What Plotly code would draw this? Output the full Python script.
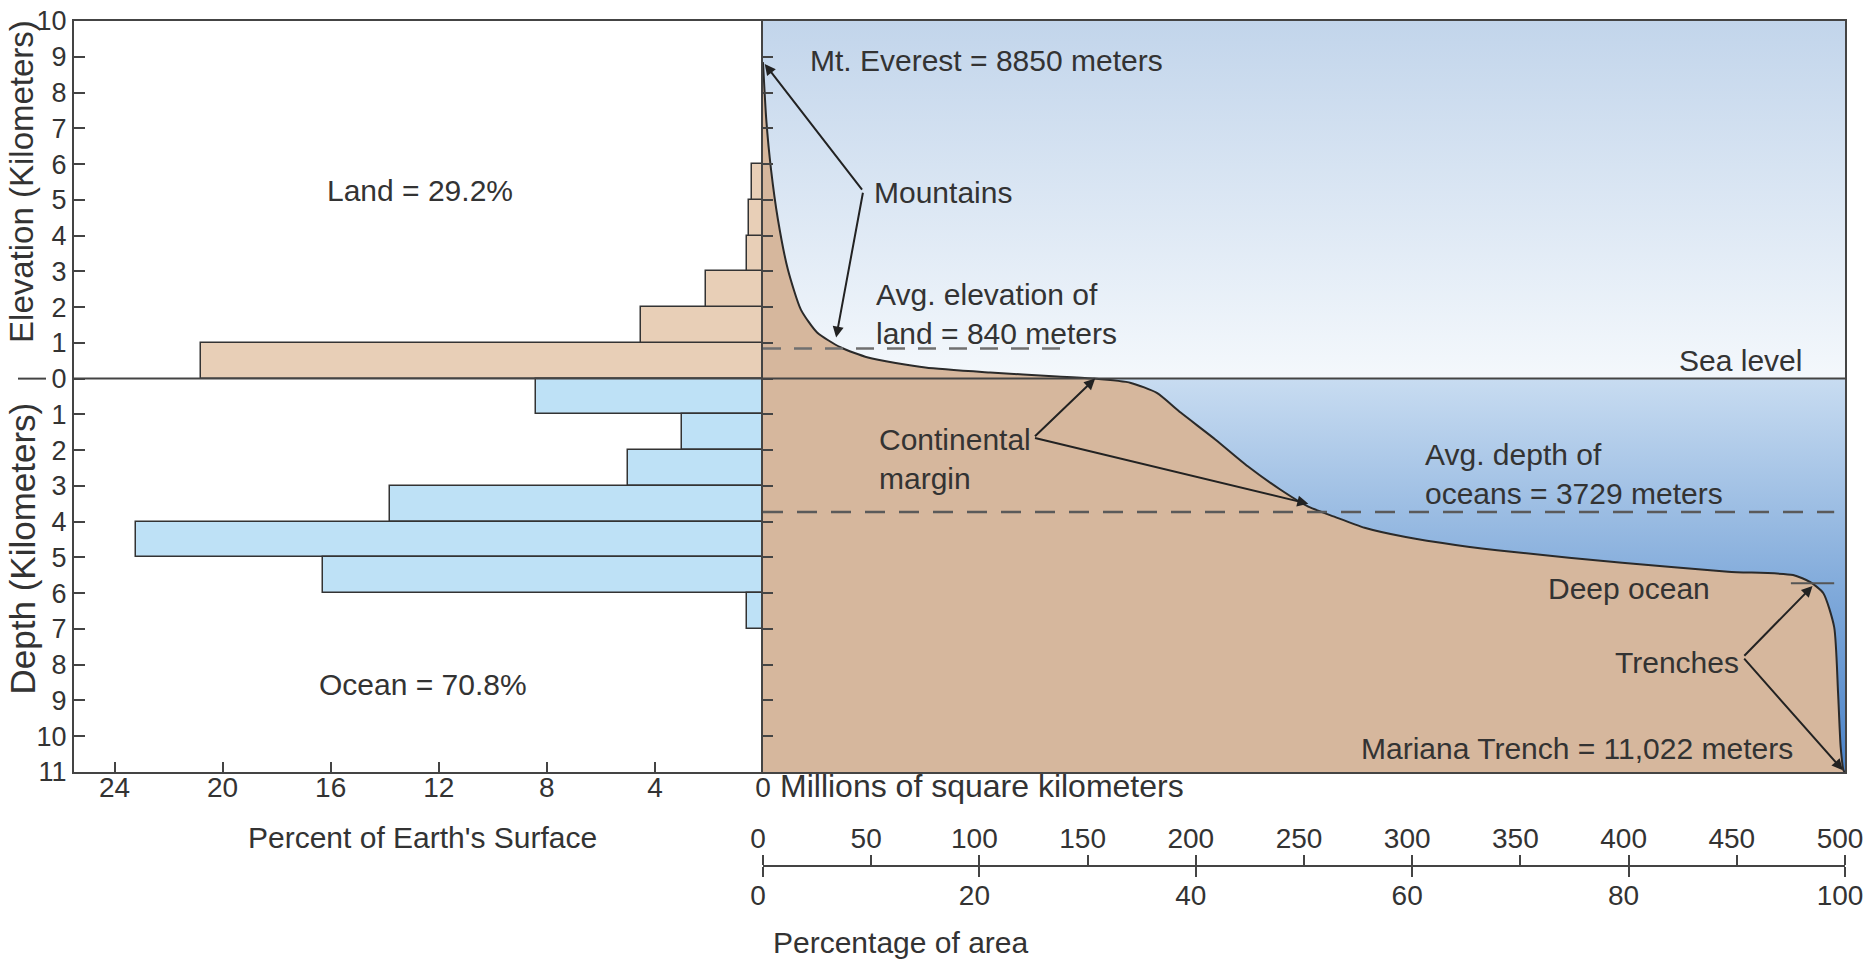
import plotly.graph_objects as go

# ---------------- data ----------------
# Left histogram: percent of Earth's surface per 1-km band
land_band_centres = [0.5, 1.5, 2.5, 3.5, 4.5, 5.5]          # km above sea level
land_percent = [20.8, 4.5, 2.1, 0.6, 0.5, 0.4]
ocean_band_centres = [-0.5, -1.5, -2.5, -3.5, -4.5, -5.5, -6.5]  # km below sea level
ocean_percent = [8.4, 3.0, 5.0, 13.8, 23.2, 16.3, 0.6]

# Hypsographic curve: cumulative area (millions of km^2) vs elevation (km)
curve_area = [0, 1.5, 3.7, 6.9, 11.5, 17.5, 25, 36, 48.5, 75, 105, 136, 153,
              170, 182, 193, 209, 224, 239, 252, 264, 278, 297, 320, 347, 397,
              446, 476, 484, 490, 495, 496.8, 498, 499.3, 500]
curve_elev = [8.85, 7.25, 5.85, 4.45, 3.05, 1.93, 1.29, 0.87, 0.59, 0.31, 0.17,
              0.06, 0.0, -0.12, -0.4, -0.95, -1.7, -2.45, -3.1, -3.58, -3.86,
              -4.17, -4.43, -4.65, -4.85, -5.15, -5.4, -5.49, -5.69, -6.0,
              -6.95, -8.8, -10.3, -10.95, -11.02]

avg_land_elev = 0.84
avg_ocean_depth = -3.729
deep_ocean_level = -5.72

percent_ticks = [0, 4, 8, 12, 16, 20, 24]
area_ticks = [0, 50, 100, 150, 200, 250, 300, 350, 400, 450, 500]
area_pct_ticks = [0, 20, 40, 60, 80, 100]
km_ticks = list(range(-11, 11))
km_ticktext = [str(abs(v)) for v in km_ticks]

# ---------------- style ----------------
FONT = "Liberation Sans, Arial, sans-serif"
TXT = "#333333"
LINE = "#444444"
W, H = 1865, 959
LAND_BAR = "#e8cfb7"
OCEAN_BAR = "#bee1f6"
BROWN = "#d6b79d"
FS = 30

X_AXIS_L, X_ZERO, X_RIGHT = 74, 763, 1845
Y_TOP, Y_BOT = 21, 772
x_left_dom = [X_AXIS_L / W, X_ZERO / W]
x_right_dom = [X_ZERO / W, X_RIGHT / W]
y_dom = [1 - Y_BOT / H, 1 - Y_TOP / H]
scale_pos = 1 - 866 / H

fig = go.Figure()

# left histogram
fig.add_trace(go.Bar(orientation="h", x=land_percent, y=land_band_centres, width=1,
                     marker=dict(color=LAND_BAR, line=dict(color="#333", width=1.5)),
                     xaxis="x", yaxis="y", hoverinfo="skip"))
fig.add_trace(go.Bar(orientation="h", x=ocean_percent, y=ocean_band_centres, width=1,
                     marker=dict(color=OCEAN_BAR, line=dict(color="#333", width=1.5)),
                     xaxis="x", yaxis="y", hoverinfo="skip"))

# right panel backgrounds (sky and sea gradients)
fig.add_trace(go.Scatter(x=[0, 500, 500, 0, 0], y=[0, 0, 10, 10, 0], mode="lines",
                         line=dict(width=0), fill="toself",
                         fillgradient=dict(type="vertical", start=0, stop=10,
                                           colorscale=[[0, "#f4f8fc"], [1, "#c2d5eb"]]),
                         xaxis="x2", yaxis="y2", hoverinfo="skip"))
fig.add_trace(go.Scatter(x=[0, 500, 500, 0, 0], y=[-11, -11, 0, 0, -11], mode="lines",
                         line=dict(width=0), fill="toself",
                         fillgradient=dict(type="vertical", start=-11, stop=0,
                                           colorscale=[[0, "#4a82c7"], [0.45, "#7fa9da"], [1, "#c8dcf1"]]),
                         xaxis="x2", yaxis="y2", hoverinfo="skip"))
# base for the brown fill
fig.add_trace(go.Scatter(x=[0, 500], y=[-11, -11], mode="lines", line=dict(width=0),
                         xaxis="x2", yaxis="y2", hoverinfo="skip"))
fig.add_trace(go.Scatter(x=curve_area, y=curve_elev, mode="lines",
                         line=dict(color="#2a2a2a", width=2, shape="spline", smoothing=0.6),
                         fill="tonexty", fillcolor=BROWN,
                         xaxis="x2", yaxis="y2", hoverinfo="skip"))

# invisible traces so the lower scales are drawn
fig.add_trace(go.Scatter(x=[0, 500], y=[0, 0], mode="markers", marker=dict(opacity=0),
                         xaxis="x3", yaxis="y", hoverinfo="skip"))
fig.add_trace(go.Scatter(x=[0, 100], y=[0, 0], mode="markers", marker=dict(opacity=0),
                         xaxis="x4", yaxis="y", hoverinfo="skip"))

axis_common = dict(showgrid=False, zeroline=False, linecolor=LINE, linewidth=2,
                   tickcolor=LINE, tickwidth=2, ticklabeloverflow="allow", automargin=False,
                   tickfont=dict(size=28, color=TXT, family=FONT))

fig.update_layout(
    width=W, height=H, margin=dict(l=0, r=0, t=0, b=0, autoexpand=False),
    paper_bgcolor="white", plot_bgcolor="rgba(0,0,0,0)", showlegend=False,
    bargap=0, font=dict(family=FONT, size=FS, color=TXT),
    xaxis=dict(domain=x_left_dom, range=[25.5, 0], anchor="y", tickvals=percent_ticks,
               ticks="inside", ticklen=10, showline=True, mirror=True,
               ticklabelstandoff=-11, **axis_common),
    yaxis=dict(domain=y_dom, range=[-11, 10], anchor="x", tickvals=km_ticks,
               ticktext=km_ticktext, ticks="inside", ticklen=11, showline=True,
               ticklabelstandoff=0, **axis_common),
    xaxis2=dict(domain=x_right_dom, range=[0, 500], anchor="y2", showline=True,
                mirror=True, showticklabels=False, ticks="", **axis_common),
    yaxis2=dict(domain=y_dom, range=[-11, 10], anchor="x2", showline=True, mirror=True,
                tickvals=list(range(-10, 10)), ticks="inside", ticklen=10,
                showticklabels=False, **axis_common),
    xaxis3=dict(domain=x_right_dom, range=[0, 500], anchor="free", position=scale_pos,
                side="top", tickvals=area_ticks, ticks="outside", ticklen=10,
                showline=True, ticklabelstandoff=-4, ticklabelshift=-5, **axis_common),
    xaxis4=dict(domain=x_right_dom, range=[0, 100], anchor="free", position=scale_pos,
                side="bottom", tickvals=area_pct_ticks, ticks="outside", ticklen=10,
                showline=True, ticklabelstandoff=-6, ticklabelshift=-5, **axis_common),
)
fig.update_yaxes(tickfont=dict(size=27, color=TXT, family=FONT), selector=dict(anchor="x"))

# shapes: sea level, averages, deep ocean tick
shapes = [
    dict(type="line", xref="paper", yref="y", x0=18 / W, x1=46 / W, y0=0, y1=0,
         line=dict(color=LINE, width=2), layer="above"),
    dict(type="line", xref="paper", yref="y", x0=X_AXIS_L / W, x1=X_RIGHT / W, y0=0, y1=0,
         line=dict(color=LINE, width=2), layer="above"),
    dict(type="line", xref="x2", yref="y2", x0=0, x1=138, y0=avg_land_elev, y1=avg_land_elev,
         line=dict(color="#707070", width=2.5, dash="18px,13px"), layer="above"),
    dict(type="line", xref="x2", yref="y2", x0=0, x1=495, y0=avg_ocean_depth, y1=avg_ocean_depth,
         line=dict(color="#5a5a5a", width=2.5, dash="20px,14px"), layer="above"),
    dict(type="line", xref="x2", yref="y2", x0=475, x1=495, y0=deep_ocean_level, y1=deep_ocean_level,
         line=dict(color="#555", width=2), layer="above"),
]
fig.update_layout(shapes=shapes)

ann = []
def txt(x, y, s, xa="left", ref=("x2", "y2"), size=FS):
    ann.append(dict(x=x, y=y, xref=ref[0], yref=ref[1], text=s, showarrow=False,
                    xanchor=xa, yanchor="middle", align=xa if xa != "center" else "center",
                    font=dict(size=size, color=TXT, family=FONT)))

def arrow(tx, ty, hx, hy):
    ann.append(dict(x=hx, y=hy, ax=tx, ay=ty, xref="x2", yref="y2", axref="x2", ayref="y2",
                    text="", showarrow=True, arrowhead=2, arrowsize=1.1, arrowwidth=2,
                    arrowcolor="#222", standoff=0, startstandoff=0))

txt(21, 8.9, "Mt. Everest = 8850 meters")
txt(50.5, 5.2, "Mountains")
txt(51.5, 1.8, "Avg. elevation of<br>land = 840 meters")
txt(481, 0.5, "Sea level", xa="right")
txt(52.5, -2.25, "Continental<br>margin")
txt(305, -2.68, "Avg. depth of<br>oceans = 3729 meters")
txt(362, -5.87, "Deep ocean")
txt(393, -7.93, "Trenches")
txt(477, -10.35, "Mariana Trench = 11,022 meters", xa="right")
txt(12.7, 5.27, "Land = 29.2%", xa="center", ref=("x", "y"))
txt(12.6, -8.54, "Ocean = 70.8%", xa="center", ref=("x", "y"))

arrow(46.3, 5.24, 0.8, 8.8)
arrow(46.3, 5.24, 33.8, 1.15)
arrow(125, -1.65, 153.5, 0.0)
arrow(125, -1.65, 252, -3.5)
arrow(452.8, -7.79, 485, -5.8)
arrow(452.8, -7.79, 499, -10.95)

ann.append(dict(x=22 / W, y=5.5, xref="paper", yref="y", text="Elevation (Kilometers)",
                textangle=-90, xanchor="center", yanchor="middle", showarrow=False,
                font=dict(size=33, color=TXT, family=FONT)))
ann.append(dict(x=22 / W, y=-4.75, xref="paper", yref="y", text="Depth (Kilometers)",
                textangle=-90, xanchor="center", yanchor="middle", showarrow=False,
                font=dict(size=35, color=TXT, family=FONT)))
ann.append(dict(x=778 / W, y=1 - 786 / H, xref="paper", yref="paper", text="Millions of square kilometers",
                xanchor="left", yanchor="middle", showarrow=False, font=dict(size=32, color=TXT, family=FONT)))
ann.append(dict(x=422 / W, y=1 - 837 / H, xref="paper", yref="paper", text="Percent of Earth's Surface",
                xanchor="center", yanchor="middle", showarrow=False, font=dict(size=FS, color=TXT, family=FONT)))
ann.append(dict(x=771 / W, y=1 - 942 / H, xref="paper", yref="paper", text="Percentage of area",
                xanchor="left", yanchor="middle", showarrow=False, font=dict(size=FS, color=TXT, family=FONT)))

fig.update_layout(annotations=ann)
fig.write_html("out.html", config={"displayModeBar": False},
               post_script="document.body.style.margin='0px';document.body.style.padding='0px';"
                           "document.documentElement.style.overflow='hidden';")
